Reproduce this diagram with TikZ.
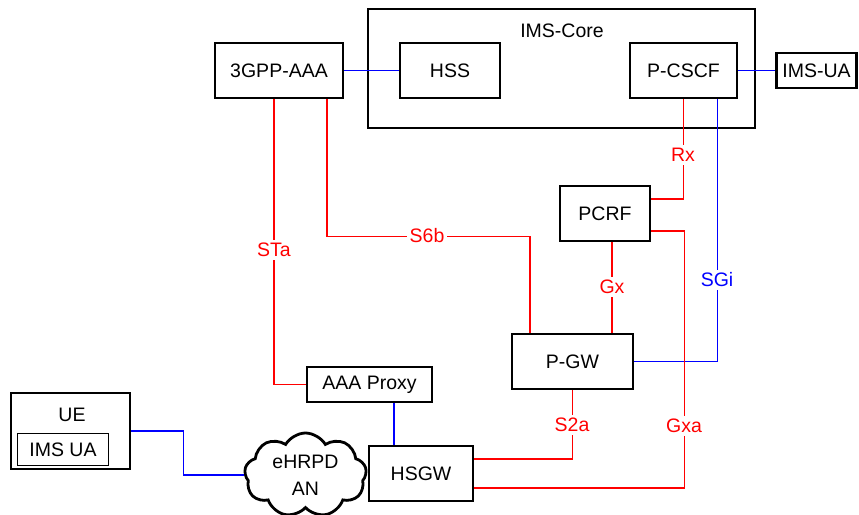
\documentclass[tikz,border=0pt]{standalone}
\usepackage{fontspec}
\setmainfont{Liberation Sans}
\usetikzlibrary{shapes.symbols,calc}
\newcommand\myfs{\fontsize{19.5}{27}\selectfont}
\definecolor{lred}{RGB}{255,0,0}
\definecolor{lblue}{RGB}{0,0,255}
\begin{document}
\begin{tikzpicture}[x=1pt,y=-1pt,
  box/.style={draw,line width=2.8pt,minimum width=#1,minimum height=55pt,inner sep=0pt,font=\myfs},
  lab/.style={fill=white,inner sep=3pt,font=\myfs},
  rl/.style={draw=lred,line width=1.4pt},
  bl/.style={draw=lblue,line width=1.4pt}]
\useasboundingbox (0,0) rectangle (859,514);
% IMS core frame
\node[draw,line width=1.3pt,minimum width=387pt,minimum height=119pt,inner sep=0pt] (core) at (561.5,68.5) {};
\node[font=\myfs] (corelab) at (562,31) {IMS-Core};
% boxes
\node[box=128pt] (AAA) at (279,70.5) {3GPP-AAA};
\node[box=100pt] (HSS) at (450,70.5) {HSS};
\node[box=107pt] (PCSCF) at (683.5,70.5) {P-CSCF};
\node[box=80pt,minimum height=35pt] (IMSUA) at (816.5,70.5) {IMS-UA};
\node[box=90pt] (PCRF) at (605,213.5) {PCRF};
\node[box=121pt] (PGW) at (572.5,361.5) {P-GW};
\node[box=125pt,minimum height=35pt] (PROXY) at (369.5,384.5) {AAA Proxy};
\node[box=104pt] (HSGW) at (421,473.5) {HSGW};
\node[box=119pt,minimum height=76pt] (UE) at (70.5,431) {};
\node[font=\myfs] (uelab) at (72,415) {UE};
\node[draw,line width=1pt,minimum width=91pt,minimum height=32pt,inner sep=0pt,font=\myfs] (ueims) at (63,449.5) {IMS UA};
\node[cloud,draw,line width=2.8pt,cloud puffs=9,cloud puff arc=120,aspect=1.5,
      minimum width=122pt,minimum height=84pt,inner sep=0pt,align=center,font=\myfs] (AN) at (305.5,475) {eHRPD\\AN};
% blue connectors
\draw[bl] (AAA.east) -- (HSS.west);
\draw[bl] (PCSCF.east) -- (IMSUA.west);
\draw[bl] ([xshift=34pt]PCSCF.south) -- ([xshift=34pt]PCSCF.south |- PGW.east) -- (PGW.east);
\draw[bl] ([xshift=24.5pt]PROXY.south) -- ([xshift=24.5pt]PROXY.south |- HSGW.north);
\draw[bl] (UE.east) -- ++(52,0) |- (AN.west);
% red connectors
\draw[rl] ([xshift=-5pt]AAA.south) |- (PROXY.west);
\draw[rl] ([xshift=48pt]AAA.south) -- ++(0,137) -| ([xshift=-42.5pt]PGW.north);
\draw[rl] (PCSCF.south) |- ([yshift=14.5pt]PCRF.east);
\draw[rl] ([xshift=7pt]PCRF.south) -- ([xshift=7pt]PCRF.south |- PGW.north);
\draw[rl] ([yshift=-17.5pt]PCRF.east) -- ++(33,0) |- ([yshift=-14.5pt]HSGW.east);
\draw[rl] (PGW.south) |- ([yshift=14.5pt]HSGW.east);
% labels
\node[lab,text=lred] (lsta) at (274,250) {STa};
\node[lab,text=lred] (ls6b) at (427,236) {S6b};
\node[lab,text=lred] (lrx) at (683,155) {Rx};
\node[lab,text=lred] (lgx) at (612,287) {Gx};
\node[lab,text=lblue] (lsgi) at (717,280) {SGi};
\node[lab,text=lred] (ls2a) at (572,425) {S2a};
\node[lab,text=lred] (lgxa) at (684,426) {Gxa};
\end{tikzpicture}
\end{document}
